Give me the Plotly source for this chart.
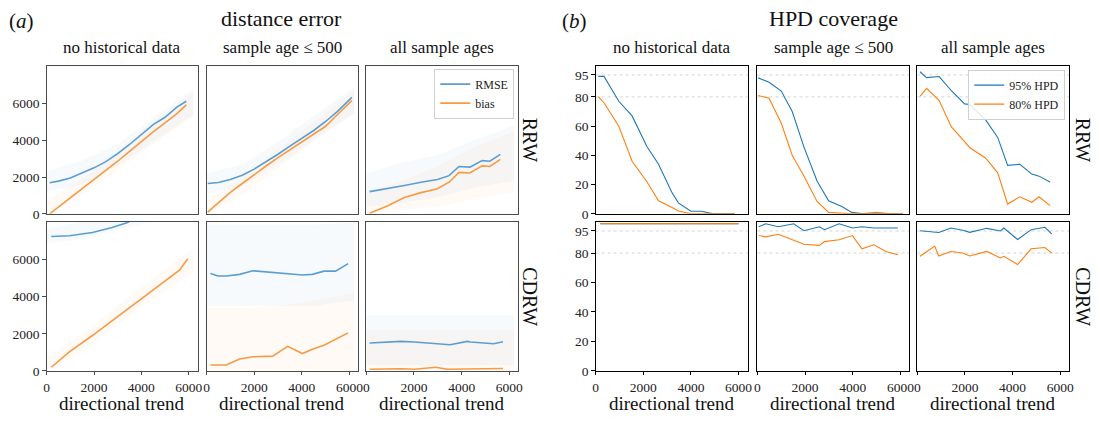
import plotly.graph_objects as go

# ---------------- text ----------------
col_titles = ["no historical data", "sample age ≤ 500", "all sample ages"]
row_labels = ["RRW", "CDRW"]
x_title = "directional trend"
a_ticks = [0, 2000, 4000, 6000]
a_yticks = [0, 2000, 4000, 6000]
b_yticks = [0, 20, 40, 60, 80, 95]

# ---------------- (a) distance error ----------------
a_rrw_nohist_x = [125, 500, 1000, 1500, 2000, 2500, 3000, 3500, 4000, 4500, 5000, 5500, 5900]
a_rrw_nohist_rmse = [1690, 1780, 1950, 2210, 2500, 2840, 3270, 3770, 4310, 4850, 5250, 5800, 6120]
a_rrw_nohist_bias = [0, 370, 870, 1370, 1870, 2360, 2860, 3400, 3950, 4450, 4950, 5450, 5920]

a_rrw_500_x = [50, 500, 1000, 1500, 2000, 2500, 3000, 3500, 4000, 4500, 5000, 5500, 6100]
a_rrw_500_rmse = [1650, 1700, 1870, 2100, 2430, 2830, 3240, 3680, 4110, 4530, 5020, 5570, 6330]
a_rrw_500_bias = [100, 600, 1170, 1650, 2140, 2600, 3060, 3480, 3900, 4330, 4760, 5400, 6150]

a_rrw_all_x = [139, 903, 1597, 2292, 2986, 3472, 3889, 4347, 4861, 5181, 5625]
a_rrw_all_rmse = [1207, 1366, 1544, 1721, 1863, 2076, 2573, 2538, 2893, 2857, 3230]
a_rrw_all_bias = [35, 444, 887, 1154, 1366, 1721, 2254, 2218, 2609, 2573, 2964]

a_cdrw_nohist_x = [194, 958, 1931, 2764, 3389, 4014, 5125, 5611, 5958]
a_cdrw_nohist_rmse = [7255, 7290, 7467, 7732, 7997, 8400, 9300, 9800, 10200]
a_cdrw_nohist_bias = [194, 1024, 1906, 2701, 3300, 3936, 4995, 5437, 6055]

a_cdrw_500_x = [167, 486, 833, 1389, 1944, 2778, 3403, 4028, 4444, 4931, 5417, 5944]
a_cdrw_500_rmse = [5260, 5120, 5120, 5208, 5402, 5313, 5260, 5172, 5208, 5384, 5384, 5790]
a_cdrw_500_bias = [318, 318, 318, 635, 759, 794, 1324, 935, 1165, 1377, 1695, 2048]

a_cdrw_all_x = [139, 903, 1458, 2014, 2569, 2917, 3403, 3514, 4236, 4375, 5347, 5736]
a_cdrw_all_rmse = [1500, 1560, 1589, 1560, 1500, 1480, 1430, 1412, 1589, 1560, 1465, 1571]
a_cdrw_all_bias = [88, 124, 110, 88, 130, 194, 88, 88, 124, 124, 124, 124]

# spread of the individual replicate estimates (faint clouds), read as envelopes
cloud_x = [0, 1500, 3000, 4500, 6200]
cloud_rrw_nohist_blue = ([1200, 1600, 2600, 3900, 5400], [2300, 2900, 3800, 5200, 6800])
cloud_rrw_nohist_orange = ([0, 1000, 2400, 3800, 5300], [700, 1900, 3400, 5000, 6600])
cloud_rrw_500_blue = ([1100, 1500, 2700, 4000, 5500], [2200, 2700, 3900, 5300, 6900])
cloud_rrw_500_orange = ([0, 1000, 2500, 3900, 5400], [700, 2000, 3500, 5000, 6700])
cloud_rrw_all_blue = ([400, 600, 900, 1400, 1800], [2200, 2800, 3200, 4000, 4800])
cloud_rrw_all_orange = ([0, 200, 400, 800, 1200], [1200, 1800, 2600, 3600, 4500])
cloud_cdrw_nohist_blue = ([6900, 7100, 7600, 8100, 8100], [7600, 8100, 8100, 8100, 8100])
cloud_cdrw_nohist_orange = ([0, 1000, 2500, 3900, 5300], [700, 2000, 3500, 5000, 6600])
cloud_cdrw_500_blue = ([3500, 3500, 3500, 3500, 3800], [7900, 7900, 7900, 7900, 8000])
cloud_cdrw_500_orange = ([0, 0, 0, 0, 0], [3400, 3400, 3500, 3800, 4200])
cloud_cdrw_all_blue = ([300, 300, 300, 300, 300], [3000, 3000, 3000, 3000, 3000])
cloud_cdrw_all_orange = ([0, 0, 0, 0, 0], [2200, 2200, 2200, 2200, 2200])

# ---------------- (b) HPD coverage ----------------
b_rrw_nohist_x = [110, 350, 970, 1530, 2150, 2640, 3190, 3470, 4000, 4440, 4930, 5830]
b_rrw_nohist_95 = [94, 94, 77, 67, 46, 34, 15, 7.5, 1.8, 1.8, 0, 0]
b_rrw_nohist_80 = [80, 76, 60, 36, 22, 9, 4.5, 2, 0, 0, 0, 0]

b_rrw_500_x = [28, 486, 1000, 1458, 1944, 2500, 2986, 3542, 3958, 4444, 5000, 5500, 6111]
b_rrw_500_95 = [93, 90, 84, 70, 46, 22.5, 9, 5, 1, 0, 0, 0, 0]
b_rrw_500_80 = [81, 79, 62, 40, 26, 8.5, 1, 0.3, 0, 0.3, 1, 0.3, 0]

b_rrw_all_x = [111, 389, 917, 1431, 1986, 2194, 2861, 3375, 3792, 4306, 4806, 5111, 5569]
b_rrw_all_95 = [97.2, 93.2, 93.9, 84.2, 75.2, 74.8, 64.4, 52.3, 33.2, 33.9, 27.2, 25.8, 21.8]
b_rrw_all_80 = [80.4, 85.8, 77.5, 59.5, 49.4, 45.4, 38.2, 28.1, 6.7, 11.7, 7.9, 11.7, 5.6]

b_cdrw_nohist_x = [200, 1000, 2000, 3000, 4000, 5000, 6000]
b_cdrw_nohist_95 = [100, 100, 100, 100, 100, 100, 100]
b_cdrw_nohist_80 = [100, 100, 100, 100, 100, 100, 100]

b_cdrw_500_x = [56, 344, 875, 1520, 1950, 2595, 2810, 3427, 3986, 4387, 4889, 5391, 5892]
b_cdrw_500_95 = [97.9, 99.9, 97.9, 99.9, 95.2, 97.9, 95.9, 99.9, 97, 97.9, 97, 97, 97]
b_cdrw_500_80 = [91.9, 91, 92.8, 88.5, 86, 85.2, 87.8, 89, 91.9, 82.9, 85.6, 81.1, 78.9]

b_cdrw_all_x = [115, 730, 900, 1410, 1910, 2200, 2915, 3490, 3630, 4210, 4780, 5355, 5640]
b_cdrw_all_95 = [95.2, 94.1, 94, 97, 95.5, 94.1, 96.8, 95, 97, 89.2, 95.9, 97.5, 93]
b_cdrw_all_80 = [77.8, 84.7, 78, 81.1, 80, 78, 81.1, 76.7, 77.8, 72.2, 82.9, 83.8, 80]

hpd_levels = [95, 80]

# ---------------- style ----------------
W, H = 1100, 422
FONT = "Liberation Serif, Times New Roman, DejaVu Serif, serif"
A_BLUE, A_ORANGE = "#5c9dd1", "#f79a45"
B_BLUE, B_ORANGE = "#1f77b4", "#ff7f0e"
CLOUD_BLUE, CLOUD_ORANGE = "rgba(31,119,180,0.035)", "rgba(255,127,14,0.04)"

a_cols_px = [(44, 196), (205, 358), (366, 519)]
b_cols_px = [(597, 750), (760, 913), (921, 1074)]
rows_px = [(67, 218), (226, 378)]
A_YMAX, B_YMAX, XMAX = 8050, 101.3, 6375


def xd(l, r):
    return [l / W, r / W]


def yd(t, b):
    return [1 - b / H, 1 - t / H]


fig = go.Figure()
layout_axes = {}


def add_axes(idx, cpx, rpx, yrange, framecol, show_x, show_y, yticks):
    xn = "xaxis" if idx == 1 else f"xaxis{idx}"
    yn = "yaxis" if idx == 1 else f"yaxis{idx}"
    tickfont = dict(family=FONT, size=13.5, color="#222")
    layout_axes[xn] = dict(
        domain=xd(*cpx), anchor=f"y{idx}" if idx > 1 else "y", range=[0, XMAX],
        showline=True, mirror=True, linecolor=framecol, linewidth=1,
        showgrid=False, zeroline=False,
        tickvals=a_ticks, ticks="outside" if show_x else "", ticklen=3.5,
        tickcolor=framecol, showticklabels=show_x, tickfont=tickfont,
    )
    layout_axes[yn] = dict(
        domain=yd(*rpx), anchor=f"x{idx}" if idx > 1 else "x", range=[0, yrange],
        showline=True, mirror=True, linecolor=framecol, linewidth=1,
        showgrid=False, zeroline=False,
        tickvals=yticks, ticks="outside" if show_y else "", ticklen=3.5,
        tickcolor=framecol, showticklabels=show_y, tickfont=tickfont,
    )


def refs(idx):
    return ("x", "y") if idx == 1 else (f"x{idx}", f"y{idx}")


def add_cloud(idx, env, color):
    xr, yr = refs(idx)
    lo, hi = env
    fig.add_trace(go.Scatter(
        x=cloud_x + cloud_x[::-1], y=lo + hi[::-1], fill="toself", fillcolor=color,
        line=dict(width=0), mode="lines", hoverinfo="skip", showlegend=False,
        xaxis=xr, yaxis=yr))


def add_line(idx, x, y, color, width, name=None, legend=None):
    xr, yr = refs(idx)
    fig.add_trace(go.Scatter(
        x=x, y=y, mode="lines", line=dict(color=color, width=width),
        name=name, showlegend=name is not None, legend=legend,
        xaxis=xr, yaxis=yr))


a_panels = [
    (a_rrw_nohist_x, a_rrw_nohist_rmse, a_rrw_nohist_bias, cloud_rrw_nohist_blue, cloud_rrw_nohist_orange),
    (a_rrw_500_x, a_rrw_500_rmse, a_rrw_500_bias, cloud_rrw_500_blue, cloud_rrw_500_orange),
    (a_rrw_all_x, a_rrw_all_rmse, a_rrw_all_bias, cloud_rrw_all_blue, cloud_rrw_all_orange),
    (a_cdrw_nohist_x, a_cdrw_nohist_rmse, a_cdrw_nohist_bias, cloud_cdrw_nohist_blue, cloud_cdrw_nohist_orange),
    (a_cdrw_500_x, a_cdrw_500_rmse, a_cdrw_500_bias, cloud_cdrw_500_blue, cloud_cdrw_500_orange),
    (a_cdrw_all_x, a_cdrw_all_rmse, a_cdrw_all_bias, cloud_cdrw_all_blue, cloud_cdrw_all_orange),
]
b_panels = [
    (b_rrw_nohist_x, b_rrw_nohist_95, b_rrw_nohist_80),
    (b_rrw_500_x, b_rrw_500_95, b_rrw_500_80),
    (b_rrw_all_x, b_rrw_all_95, b_rrw_all_80),
    (b_cdrw_nohist_x, b_cdrw_nohist_95, b_cdrw_nohist_80),
    (b_cdrw_500_x, b_cdrw_500_95, b_cdrw_500_80),
    (b_cdrw_all_x, b_cdrw_all_95, b_cdrw_all_80),
]

shapes = []
for k in range(6):
    r, c = divmod(k, 3)
    # panel (a)
    idx = k + 1
    add_axes(idx, a_cols_px[c], rows_px[r], A_YMAX, "#4a4a4a", r == 1, c == 0, a_yticks)
    x, rm, bi, cb, co = a_panels[k]
    add_cloud(idx, cb, CLOUD_BLUE)
    add_cloud(idx, co, CLOUD_ORANGE)
    leg = k == 2
    add_line(idx, x, rm, A_BLUE, 1.6, "RMSE" if leg else None, "legend")
    add_line(idx, x, bi, A_ORANGE, 1.6, "bias" if leg else None, "legend")
    # panel (b)
    idx = k + 7
    add_axes(idx, b_cols_px[c], rows_px[r], B_YMAX, "#000000", r == 1, c == 0, b_yticks)
    x, v95, v80 = b_panels[k]
    xr, yr = refs(idx)
    for lvl in hpd_levels:
        shapes.append(dict(type="line", xref=f"{xr} domain", yref=yr, x0=0, x1=1, y0=lvl, y1=lvl,
                           line=dict(color="#d4d4d4", width=1, dash="dot"), layer="below"))
    add_line(idx, x, v95, B_BLUE, 1.1, "95% HPD" if leg else None, "legend2")
    add_line(idx, x, v80, B_ORANGE, 1.1, "80% HPD" if leg else None, "legend2")

ann = []


def text(x, y, s, size, **kw):
    d = dict(x=x / W, y=1 - y / H, xref="paper", yref="paper", text=s, showarrow=False,
             font=dict(family=FONT, size=size, color="#111"), xanchor="center", yanchor="middle")
    d.update(kw)
    ann.append(d)


text(19, 21, "(<i>a</i>)", 21)
text(281, 19, "distance error", 22)
text(576, 21, "(<i>b</i>)", 21)
text(837, 19, "HPD coverage", 22)
for c in range(3):
    for cols in (a_cols_px, b_cols_px):
        l, rr = cols[c]
        text((l + rr) / 2, 48, col_titles[c], 17)
        text((l + rr) / 2, 411, x_title, 19)
for r in range(2):
    t, b = rows_px[r]
    text(531, (t + b) / 2, row_labels[r], 20, textangle=90)
    text(1088, (t + b) / 2, row_labels[r], 20, textangle=90)

legend_style = dict(
    bgcolor="rgba(255,255,255,0.85)", bordercolor="#d0d0d0", borderwidth=1,
    font=dict(family=FONT, size=12, color="#222"), itemwidth=30,
    xanchor="right", yanchor="top", tracegroupgap=0,
)
fig.update_layout(
    width=W, height=H, margin=dict(l=0, r=0, t=0, b=0),
    plot_bgcolor="white", paper_bgcolor="white",
    annotations=ann, shapes=shapes,
    legend=dict(x=515 / W, y=1 - 70 / H, **legend_style),
    legend2=dict(x=1070 / W, y=1 - 71 / H, **legend_style),
    **layout_axes,
)
fig.write_html("out.html", config={"displayModeBar": False},
               post_script="document.body.style.margin='0';document.body.style.overflow='hidden';")
